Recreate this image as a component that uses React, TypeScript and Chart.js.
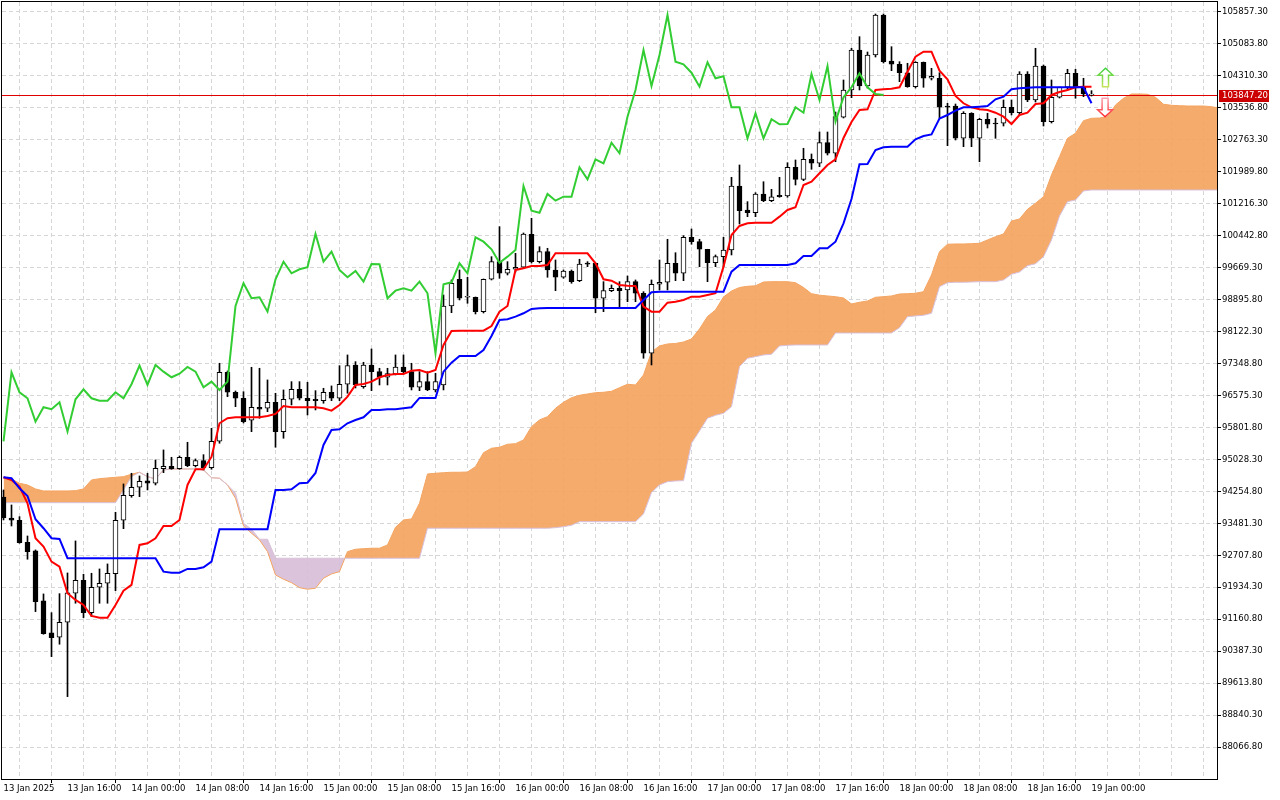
import React, { useEffect, useRef } from 'react';
import { Chart, registerables } from 'chart.js';

Chart.register(...registerables);

// H1 candles, bar 0 = 13 Jan 2025 08:00
const opens = [
  94120, 93612, 93556, 93024, 92814, 91604, 90829, 90725, 91088, 91790,
  92104, 91320, 91935, 92032, 92264, 93556, 94152, 94355, 94508, 94452,
  94805, 94863, 94805, 95081, 94878, 94999, 94830, 95468, 97138, 96654,
  96509, 95976, 96291, 96267, 96412, 95701, 96485, 96727, 96509, 96485,
  96451, 96654, 96509, 96848, 97315, 96790, 97315, 97153, 97017, 97104,
  97266, 97153, 96775, 96911, 96710, 96831, 98742, 99389, 98953, 98953,
  98605, 99389, 99815, 99534, 99631, 99679, 100478, 99815, 100057, 99614,
  99437, 99590, 99355, 99783, 99776, 98929, 99113, 99171, 99130, 99331,
  99050, 97598, 99268, 99316, 99776, 99534, 100405, 100299, 100115, 99790,
  99936, 100098, 101647, 101066, 101000, 101453, 101291, 101421, 101404, 102099,
  101808, 102293, 102196, 102694, 102438, 103309, 103970, 104938, 104067, 104817,
  105785, 104671, 104592, 104388, 104050, 104640, 104253, 104253, 103582, 103582,
  102801, 103406, 102801, 103261, 103171, 103164, 103551, 103420, 104357, 103728,
  104550, 103203, 103793, 104035, 104374, 104035, 103847.2,
];
const highs = [
  94290, 93927, 93644, 93176, 92838, 91773, 91320, 91780, 92281, 93056,
  92250, 92274, 92378, 92499, 93750, 94435, 94694, 94629, 94694, 95016,
  95258, 95081, 95113, 95444, 95040, 95144, 95783, 97356, 97169, 96685,
  96668, 97259, 97235, 96952, 96630, 96710, 96911, 96911, 96896, 96693,
  96751, 96807, 97298, 97557, 97395, 97380, 97702, 97235, 97235, 97557,
  97557, 97356, 97153, 97153, 97114, 99009, 99372, 99614, 99437, 98960,
  99396, 99936, 100662, 99815, 100018, 100509, 100865, 100177, 100139, 99856,
  99614, 99614, 99873, 99815, 99783, 99331, 99251, 99331, 99468, 99372,
  99089, 99372, 99856, 100357, 100032, 100444, 100606, 100357, 100115, 99977,
  100405, 101857, 102155, 101267, 101484, 101750, 101566, 101857, 102210, 102276,
  102559, 102421, 102953, 102953, 103437, 104212, 104979, 105260, 104889, 105809,
  105809, 105018, 104655, 104616, 104655, 104647, 104495, 104388, 103648, 103631,
  103445, 103420, 103285, 103406, 103285, 103728, 103728, 104413, 104413, 104979,
  104575, 104212, 104042, 104471, 104471, 104253, 103953,
];
const lows = [
  93564, 93418, 93000, 92613, 91345, 90798, 90256, 90556, 89288, 91548,
  91200, 91224, 91548, 91548, 91853, 93353, 94113, 94128, 94290, 94411,
  94708, 94790, 94790, 94854, 94846, 94774, 94790, 95420, 96548, 96306,
  95911, 95701, 96025, 96185, 95323, 95541, 96347, 96468, 96105, 96226,
  96388, 96451, 96451, 96630, 96758, 96751, 96693, 96831, 96831, 97073,
  97114, 96710, 96693, 96693, 96661, 96710, 98580, 98888, 98808, 98549,
  98573, 99372, 99413, 99493, 99565, 99662, 99783, 99783, 99437, 99113,
  99413, 99292, 99331, 99694, 98580, 98605, 99089, 98726, 98846, 98846,
  97477, 97315, 99130, 99130, 99355, 99355, 100236, 99694, 99331, 99694,
  99694, 99977, 100727, 100904, 100904, 101267, 101267, 101373, 101373, 101671,
  101775, 102051, 102114, 102397, 102234, 103292, 103783, 103970, 104018, 104768,
  104623, 104437, 104171, 104035, 104018, 104035, 104212, 103292, 102622, 102760,
  102598, 102598, 102234, 103050, 102801, 103098, 103365, 103365, 103687, 103679,
  103098, 103171, 103776, 103994, 103769, 103808, 103824,
];
const closes = [
  93612, 93556, 93014, 92797, 91587, 90812, 90716, 91088, 91797, 92104,
  91320, 91935, 92032, 92274, 93556, 94161, 94355, 94500, 94452, 94815,
  94863, 94805, 95081, 94878, 94999, 94830, 95468, 97138, 96654, 96509,
  95943, 96291, 96243, 96412, 95701, 96485, 96727, 96509, 96451, 96451,
  96654, 96509, 96848, 97298, 96831, 97315, 97153, 97017, 97104, 97266,
  97153, 96775, 96911, 96710, 96911, 98742, 99292, 98929, 98953, 98605,
  99389, 99815, 99534, 99631, 99679, 100485, 99815, 100057, 99614, 99437,
  99590, 99331, 99759, 99752, 98929, 99113, 99171, 99113, 99331, 99050,
  97598, 99268, 99316, 99776, 99534, 100405, 100299, 100115, 99790, 99936,
  100098, 101647, 101049, 101000, 101453, 101291, 101387, 101387, 102099, 101808,
  102293, 102196, 102694, 102438, 103324, 103970, 104938, 104067, 104817, 105785,
  104654, 104592, 104388, 104050, 104640, 104253, 104301, 103551, 103551, 102801,
  103406, 102801, 103261, 103140, 103147, 103551, 103420, 104357, 103728, 104550,
  103203, 103793, 104035, 104374, 104035, 103873, 103847.2,
];

const tenkan = [
  94597, 94532, 94370, 93968, 93121, 92918, 92555, 92434, 91790, 91628,
  91507, 91240, 91199, 91199, 91507, 91853, 91991, 92959, 93000, 93121,
  93418, 93418, 93564, 94411, 94791, 94791, 95088, 95904, 96025, 96049,
  96049, 96049, 96049, 96080, 96129, 96322, 96291, 96291, 96291, 96291,
  96267, 96209, 96347, 96548, 96831, 96855, 96911, 97017, 97073, 97097,
  97097, 97177, 97194, 97128, 97194, 97799, 98138, 98145, 98145, 98145,
  98145, 98258, 98605, 98742, 99614, 99655, 99710, 99710, 99735, 100018,
  100018, 100018, 100018, 100018, 99776, 99389, 99355, 99251, 99234, 99226,
  98726, 98605, 98605, 98822, 98847, 98888, 98968, 98968, 99009, 99050,
  99694, 100461, 100679, 100744, 100758, 100758, 100758, 100904, 101066, 101131,
  101671, 101751, 101954, 102155, 102293, 102808, 103195, 103486, 103503, 103970,
  103987, 104001, 104035, 104413, 104776, 104897, 104897, 104437, 104229, 103825,
  103648, 103551, 103503, 103486, 103420, 103324, 103147, 103365, 103420, 103631,
  103648, 103849, 103921, 103970, 104035, 104050, 104050,
];
const kijun = [
  94597, 94573, 94331, 94145, 93581, 93363, 93121, 93104, 92637, 92637,
  92637, 92637, 92637, 92637, 92637, 92637, 92637, 92637, 92637, 92637,
  92313, 92288, 92288, 92378, 92378, 92419, 92555, 93339, 93339, 93339,
  93339, 93339, 93339, 93339, 94290, 94290, 94307, 94452, 94466, 94701,
  95379, 95742, 95759, 95904, 95984, 96049, 96226, 96226, 96243, 96243,
  96267, 96291, 96516, 96516, 96516, 97153, 97370, 97532, 97532, 97532,
  97678, 98016, 98404, 98421, 98484, 98566, 98670, 98687, 98694, 98694,
  98694, 98694, 98694, 98694, 98694, 98694, 98694, 98694, 98694, 98694,
  98888, 99074, 99089, 99089, 99089, 99089, 99089, 99089, 99089, 99089,
  99089, 99573, 99735, 99735, 99735, 99735, 99735, 99735, 99735, 99776,
  99953, 99953, 100139, 100139, 100299, 100744, 101332, 102172, 102179, 102518,
  102583, 102598, 102598, 102598, 102777, 102856, 102893, 103280, 103365, 103469,
  103551, 103551, 103566, 103582, 103745, 103808, 103987, 104011, 104025, 104035,
  104035, 104035, 104035, 104035, 104035, 104035, 103648,
];
// senkou spans, shifted 26 bars forward
const spanA = [
  94573, 94556, 94452, 94411, 94314, 94266, 94266, 94266, 94266, 94273,
  94314, 94532, 94563, 94580, 94597, 94612, 94670, 94718, 94612, 94556,
  94774, 94798, 94798, 94798, 94798, 94774, 94587, 94573, 94411, 94089,
  93418, 93242, 93080, 92797, 92233, 92129, 92046, 91925, 91887, 91911,
  92153, 92257, 92313, 92797, 92855, 92869, 92879, 92879, 92959, 93387,
  93564, 93588, 93968, 94677, 94694, 94708, 94718, 94718, 94725, 94854,
  95192, 95299, 95323, 95396, 95410, 95500, 95822, 95984, 96064, 96267,
  96412, 96523, 96581, 96613, 96644, 96654, 96678, 96765, 96848, 96831,
  97073, 97629, 97775, 97823, 97835, 97871, 97944, 98186, 98488, 98646,
  98960, 99106, 99190, 99219, 99231, 99323, 99331, 99331, 99331, 99306,
  99190, 99040, 99004, 98985, 98968, 98936, 98791, 98832, 98864, 98953,
  98968, 98985, 99033, 99040, 99050, 99089, 99493, 100057, 100236, 100243,
  100243, 100250, 100260, 100340, 100420, 100485, 100800, 100848, 101083, 101228,
  101388, 101913, 102356, 102801, 102922, 103227, 103285, 103292, 103324, 103607,
  103769, 103873, 103873, 103866, 103793, 103624, 103599, 103590, 103582, 103582,
  103582, 103566, 103527,
];
const spanB = [
  93982, 93982, 93982, 93982, 93982, 93982, 93982, 93982, 93982, 93982,
  93982, 93982, 93982, 93982, 93982, 94290, 94612, 94718, 94612, 94556,
  94774, 94798, 94798, 94798, 94798, 94774, 94587, 94573, 94411, 94210,
  93484, 93339, 93097, 93097, 92637, 92637, 92637, 92637, 92637, 92637,
  92637, 92637, 92637, 92637, 92637, 92637, 92637, 92637, 92637, 92637,
  92637, 92637, 92637, 93363, 93363, 93363, 93363, 93363, 93363, 93363,
  93363, 93363, 93363, 93363, 93363, 93363, 93363, 93363, 93363, 93377,
  93402, 93435, 93523, 93523, 93523, 93523, 93523, 93523, 93523, 93523,
  93709, 94229, 94411, 94491, 94508, 94515, 95420, 95718, 96025, 96097,
  96146, 96306, 97274, 97477, 97516, 97557, 97574, 97775, 97791, 97799,
  97799, 97799, 97799, 97799, 98089, 98089, 98089, 98089, 98089, 98089,
  98089, 98089, 98217, 98484, 98501, 98517, 98566, 99210, 99306, 99316,
  99316, 99323, 99331, 99331, 99331, 99372, 99510, 99565, 99718, 99766,
  99936, 100340, 100921, 101267, 101308, 101526, 101550, 101550, 101550, 101550,
  101550, 101550, 101550, 101550, 101550, 101550, 101550, 101550, 101550, 101550,
  101550, 101550, 101550,
];
// chikou span: the close plotted 26 bars back
const chikou = closes.slice(26);

const lastPrice = 103847.2;

const priceTicks = [
  105857.3, 105083.8, 104310.3, 103536.8, 102763.3, 101989.8, 101216.3, 100442.8,
  99669.3, 98895.8, 98122.3, 97348.8, 96575.3, 95801.8, 95028.3, 94254.8,
  93481.3, 92707.8, 91934.3, 91160.8, 90387.3, 89613.8, 88840.3, 88066.8,
];
const timeLabels = [
  '13 Jan 2025', '13 Jan 16:00', '14 Jan 00:00', '14 Jan 08:00', '14 Jan 16:00',
  '15 Jan 00:00', '15 Jan 08:00', '15 Jan 16:00', '16 Jan 00:00', '16 Jan 08:00',
  '16 Jan 16:00', '17 Jan 00:00', '17 Jan 08:00', '17 Jan 16:00', '18 Jan 00:00',
  '18 Jan 08:00', '18 Jan 16:00', '19 Jan 00:00',
];
const barsPerLabel = 8;
const barsPerGrid = 4;

// buy / sell arrow markers
const upArrow = { bar: 137.75, tip: 104495, base: 104050 };
const downArrow = { bar: 137.7, base: 103769, tip: 103323 };

const FONT = { family: 'DejaVu Sans', size: 8.5 };
const GRID = '#d6d6d6';

const pts = (arr: number[]) => arr.map((v, i) => ({ x: i, y: v }));

const isLabelTick = (v: number) =>
  v % barsPerLabel === 0 && v / barsPerLabel < timeLabels.length;

function drawArrow(ctx: CanvasRenderingContext2D, cx: number, yTip: number, yBase: number, c1: string, c2: string) {
  const dir = yBase > yTip ? 1 : -1;
  const head = 7 * dir;
  const hw = 7.5;
  const sw = 3;
  ctx.beginPath();
  ctx.moveTo(cx, yTip);
  ctx.lineTo(cx + hw, yTip + head);
  ctx.lineTo(cx + sw, yTip + head);
  ctx.lineTo(cx + sw, yBase);
  ctx.lineTo(cx - sw, yBase);
  ctx.lineTo(cx - sw, yTip + head);
  ctx.lineTo(cx - hw, yTip + head);
  ctx.closePath();
  ctx.fillStyle = '#ffffff';
  ctx.fill();
  const g = ctx.createLinearGradient(cx, yTip, cx, yBase);
  g.addColorStop(0, c1);
  g.addColorStop(1, c2);
  ctx.lineWidth = 1.5;
  ctx.strokeStyle = g;
  ctx.stroke();
}

const overlay = {
  id: 'mtOverlay',
  // price line goes under the candles but over the cloud
  beforeDatasetDraw(chart: any, args: any) {
    if (chart.data.datasets[args.index].label !== 'Wicks') return;
    const { ctx, chartArea: a, scales } = chart;
    const py = Math.round(scales.y.getPixelForValue(lastPrice)) + 0.5;
    ctx.save();
    ctx.strokeStyle = '#e00000';
    ctx.lineWidth = 1;
    ctx.beginPath();
    ctx.moveTo(a.left, py);
    ctx.lineTo(a.right, py);
    ctx.stroke();
    ctx.restore();
  },
  afterDraw(chart: any) {
    const { ctx, chartArea: a, scales } = chart;
    const xs = scales.x;
    const ys = scales.y;
    ctx.save();
    ctx.strokeStyle = '#000';
    ctx.lineWidth = 1;
    ctx.strokeRect(a.left - 0.5, a.top - 0.5, a.right - a.left + 1, a.bottom - a.top + 1);

    // current price tag
    const py = Math.round(ys.getPixelForValue(lastPrice));
    ctx.fillStyle = '#cc0000';
    ctx.fillRect(a.right + 2, py - 5, 50, 12);
    ctx.fillStyle = '#ffffff';
    ctx.font = '8.5px "DejaVu Sans"';
    ctx.textBaseline = 'middle';
    ctx.textAlign = 'left';
    ctx.fillText(lastPrice.toFixed(2), a.right + 5, py + 1);

    drawArrow(ctx, xs.getPixelForValue(upArrow.bar), ys.getPixelForValue(upArrow.tip),
      ys.getPixelForValue(upArrow.base), '#3fd23f', '#c4e35a');
    drawArrow(ctx, xs.getPixelForValue(downArrow.bar), ys.getPixelForValue(downArrow.tip),
      ys.getPixelForValue(downArrow.base), '#ff2a2a', '#ff9fb0');
    ctx.restore();
  },
};

const App: React.FC = () => {
  const canvasRef = useRef<HTMLCanvasElement>(null);

  useEffect(() => {
    if (!canvasRef.current) return;
    const chart = new Chart(canvasRef.current, {
      type: 'line',
      data: {
        datasets: [
          {
            label: 'Senkou Span A',
            data: pts(spanA),
            borderColor: '#F4A460',
            borderWidth: 1,
            pointRadius: 0,
            fill: { target: '+1', above: 'rgba(244,164,96,0.92)', below: 'rgba(216,191,216,0.92)' },
            order: 20,
          },
          {
            label: 'Senkou Span B',
            data: pts(spanB),
            borderColor: '#D8BFD8',
            borderWidth: 1,
            pointRadius: 0,
            fill: false,
            order: 19,
          },
          {
            type: 'bar',
            label: 'Wicks',
            data: highs.map((h, i) => ({ x: i, y: [lows[i], h] })),
            backgroundColor: '#000000',
            borderWidth: 0,
            barThickness: 1,
            grouped: false,
            order: 10,
          } as any,
          {
            type: 'bar',
            label: 'Bodies',
            data: opens.map((o, i) => ({ x: i, y: [o, closes[i]] })),
            backgroundColor: opens.map((o, i) => (closes[i] >= o ? '#ffffff' : '#000000')),
            borderColor: '#000000',
            borderWidth: 1,
            borderSkipped: false,
            barThickness: 5,
            minBarLength: 1,
            grouped: false,
            order: 9,
          } as any,
          {
            label: 'Tenkan-sen',
            data: pts(tenkan),
            borderColor: '#FF0000',
            borderWidth: 2,
            pointRadius: 0,
            fill: false,
            order: 3,
          },
          {
            label: 'Kijun-sen',
            data: pts(kijun),
            borderColor: '#0000FF',
            borderWidth: 2,
            pointRadius: 0,
            fill: false,
            order: 2,
          },
          {
            label: 'Chikou Span',
            data: pts(chikou),
            borderColor: '#32CD32',
            borderWidth: 2,
            pointRadius: 0,
            fill: false,
            order: 1,
          },
        ],
      },
      options: {
        animation: false,
        responsive: true,
        maintainAspectRatio: false,
        devicePixelRatio: 1,
        events: [],
        layout: { padding: { left: 2, top: 2, right: 0, bottom: 0 } },
        elements: { line: { tension: 0 }, point: { radius: 0 } },
        plugins: {
          legend: { display: false },
          tooltip: { enabled: false },
        },
        scales: {
          x: {
            type: 'linear',
            min: -0.1875,
            max: 151.6875,
            offset: false,
            afterBuildTicks: (s: any) => {
              const t = [];
              for (let v = 0; v <= s.max; v += barsPerGrid) t.push({ value: v });
              s.ticks = t;
            },
            afterFit: (s: any) => {
              s.height = 21;
              s.paddingLeft = 0;
              s.paddingRight = 0;
            },
            ticks: {
              autoSkip: false,
              maxRotation: 0,
              minRotation: 0,
              align: 'start',
              padding: 1,
              color: '#000',
              font: FONT,
              callback: (v: any) => (isLabelTick(Number(v)) ? timeLabels[Number(v) / barsPerLabel] : ''),
            },
            grid: {
              color: GRID,
              tickLength: 4,
              tickBorderDash: [],
              tickColor: (c: any) => (c.tick && isLabelTick(c.tick.value) ? '#000' : 'rgba(0,0,0,0)'),
            },
            border: { display: true, color: '#000', dash: [4, 3] },
          },
          y: {
            type: 'linear',
            position: 'right',
            min: 87294.3,
            max: 106099.3,
            afterBuildTicks: (s: any) => {
              s.ticks = priceTicks.map((v) => ({ value: v }));
            },
            afterFit: (s: any) => {
              s.width = 63;
              s.paddingTop = 0;
              s.paddingBottom = 0;
            },
            ticks: {
              autoSkip: false,
              padding: 1,
              color: '#000',
              font: FONT,
              callback: (v: any) => Number(v).toFixed(2),
            },
            grid: { color: GRID, tickLength: 4, tickColor: '#000', tickBorderDash: [] },
            border: { display: true, color: '#000', dash: [4, 3] },
          },
        },
      } as any,
      plugins: [overlay],
    } as any);

    return () => {
      chart.destroy();
    };
  }, []);

  return (
    <div style={{ position: 'absolute', left: 0, top: 0, width: 1280, height: 800, background: '#ffffff' }}>
      <canvas ref={canvasRef} />
    </div>
  );
};

export default App;
